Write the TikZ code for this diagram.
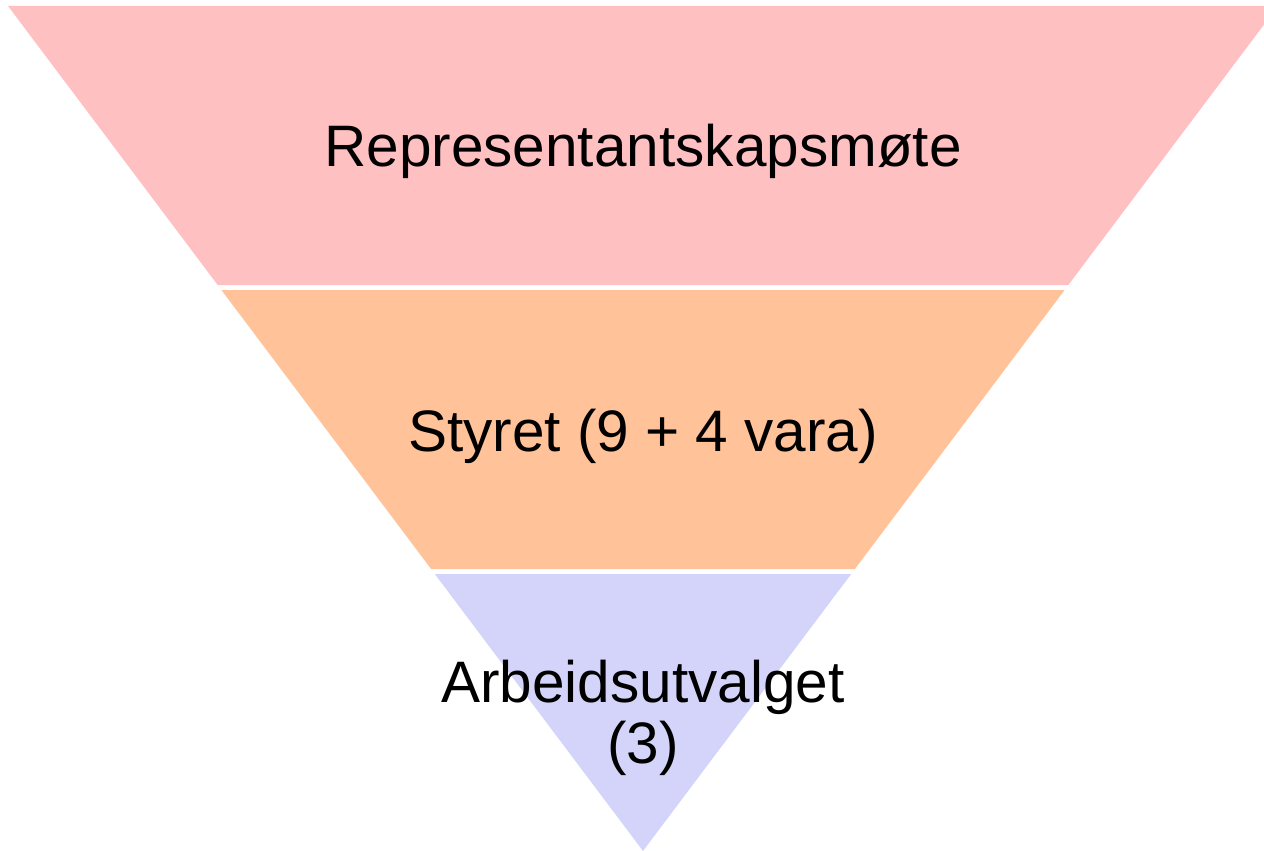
\documentclass[tikz,border=0pt]{standalone}
\usepackage{fontspec}
\setmainfont{Liberation Sans}
\definecolor{rosa}{RGB}{255,192,193}
\definecolor{oransje}{RGB}{255,194,153}
\definecolor{lilla}{RGB}{212,212,250}
\tikzset{
	lag/.style={fill=#1, draw=none},
	tekst/.style={anchor=base, align=center, inner sep=0pt, font=\fontsize{58.5}{61}\selectfont}
}
\begin{document}
\begin{tikzpicture}[x=1pt, y=-1pt]
		\useasboundingbox (0, 0) rectangle (1264, 851);
		\clip (0, 0) rectangle (1264, 851);

		\fill[lag=rosa] (8, 6) -- (1278, 6) -- (1068.3, 285) -- (217.7, 285) -- cycle;
		\fill[lag=oransje] (221.4, 290) -- (1064.6, 290) -- (854.9, 569) -- (431.1, 569) -- cycle;
		\fill[lag=lilla] (434.8, 574) -- (851.2, 574) -- (643, 851) -- cycle;

		\node[tekst] (rep) at (643, 166) {Representantskapsmøte};
		\node[tekst] (styret) at (643, 451) {Styret (9 + 4 vara)};
		\node[tekst, anchor=north] (au) at (643, 660) {Arbeidsutvalget\\(3)};
	\end{tikzpicture}
\end{document}
